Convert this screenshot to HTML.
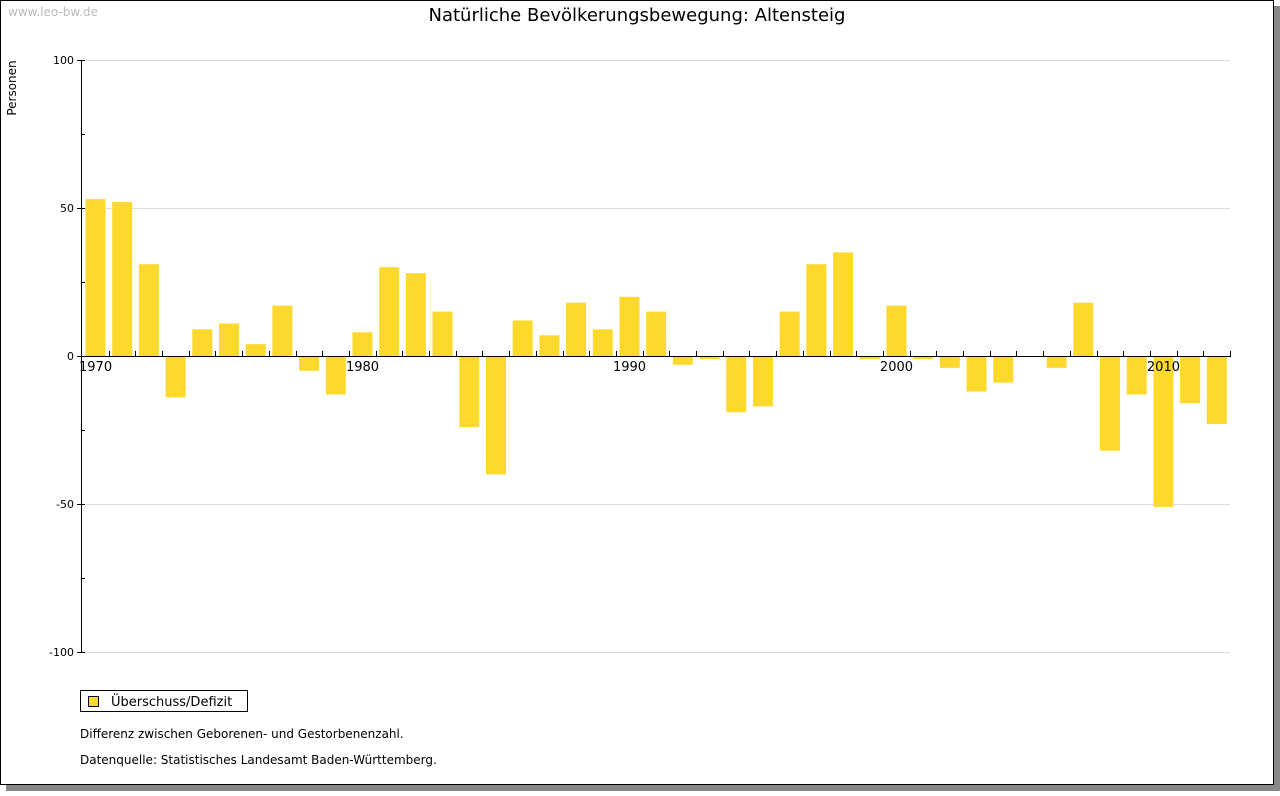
<!DOCTYPE html>
<html><head><meta charset="utf-8"><style>
body{margin:0;background:#fff;}
svg text{font-family:"DejaVu Sans","Liberation Sans",sans-serif;}
</style></head><body>
<svg width="1280" height="791" xmlns="http://www.w3.org/2000/svg">
<rect x="6" y="6" width="1274" height="785" fill="#888"/>
<rect x="0.5" y="0.5" width="1273" height="784" fill="#fff" stroke="#000"/>
<text x="8" y="16" font-size="12" fill="#bbb">www.leo-bw.de</text>
<text x="637" y="21" font-size="18" text-anchor="middle">Natürliche Bevölkerungsbewegung: Altensteig</text>
<text transform="translate(16,88) rotate(-90)" font-size="12" text-anchor="middle">Personen</text>
<g id="grid"></g><g id="bars"></g><g id="axes"></g>
<rect x="80.5" y="690.5" width="167" height="21" fill="#fff" stroke="#000"/>
<rect x="88.5" y="696.5" width="10" height="10" fill="#fdd92e" stroke="#000"/>
<text x="111" y="706" font-size="13">Überschuss/Defizit</text>
<text x="80" y="738" font-size="12">Differenz zwischen Geborenen- und Gestorbenenzahl.</text>
<text x="80" y="764" font-size="12">Datenquelle: Statistisches Landesamt Baden-Württemberg.</text>
</svg>
<script>
const years=[1970,1971,1972,1973,1974,1975,1976,1977,1978,1979,1980,1981,1982,1983,1984,1985,1986,1987,1988,1989,1990,1991,1992,1993,1994,1995,1996,1997,1998,1999,2000,2001,2002,2003,2004,2005,2006,2007,2008,2009,2010,2011,2012];
const values=[53,52,31,-14,9,11,4,17,-5,-13,8,30,28,15,-24,-40,12,7,18,9,20,15,-3,-1,-19,-17,15,31,35,-1,17,-1,-4,-12,-9,0,-4,18,-32,-13,-51,-16,-23];
const yTicks=[100,50,0,-50,-100];
const xLabels=[1970,1980,1990,2000,2010];
const NS="http://www.w3.org/2000/svg";
const x0=82,x1=1230,slot=(x1-x0)/years.length;
const y=v=>356-v*2.96;
const xs=i=>x0+i*slot;
function mk(t,a,p){const e=document.createElementNS(NS,t);for(const k in a)e.setAttribute(k,a[k]);p.appendChild(e);return e;}
const g=document.getElementById('grid'),b=document.getElementById('bars'),ax=document.getElementById('axes');
yTicks.forEach(v=>{
 const l=mk('line',{x1:81,x2:1230,y1:y(v)+0.5,y2:y(v)+0.5,stroke:'#ddd'},g);
 
 
 const t=mk('text',{x:74,y:y(v)+4,'font-size':11,'text-anchor':'end'},ax);t.textContent=v;
 
 
 mk('line',{x1:77,x2:81,y1:y(v)+0.5,y2:y(v)+0.5,stroke:'#000'},ax);
});
for(let v=-100;v<=100;v+=25)mk('line',{x1:81,x2:85,y1:y(v)+0.5,y2:y(v)+0.5,stroke:'#000'},ax);
values.forEach((v,i)=>{
 const r=mk('rect',{x:xs(i)+3.5,width:20,y:Math.min(y(v),y(0)),height:Math.abs(y(v)-y(0)),fill:'#fdd92e'},b);
 
 
});
mk('line',{x1:81.5,x2:81.5,y1:60,y2:653,stroke:'#000'},ax);
mk('line',{x1:81,x2:1231,y1:356.5,y2:356.5,stroke:'#000'},ax);
for(let i=1;i<=years.length;i++)mk('line',{x1:Math.round(xs(i))+0.5,x2:Math.round(xs(i))+0.5,y1:351,y2:356,stroke:'#000'},ax);
xLabels.forEach(yr=>{
 const i=years.indexOf(yr);
 const t=mk('text',{x:xs(i)-3,y:371,'font-size':13},ax);t.textContent=yr;
 
 
});
</script>
</body></html>
